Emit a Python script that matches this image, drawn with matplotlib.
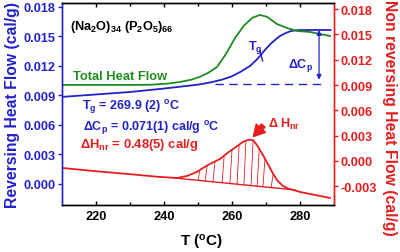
import matplotlib
matplotlib.use('Agg')
import matplotlib.pyplot as plt
import numpy as np

plt.rcParams['font.family'] = ['Liberation Sans', 'DejaVu Sans']
plt.rcParams['font.weight'] = 'bold'
plt.rcParams['mathtext.fontset'] = 'custom'
plt.rcParams['mathtext.rm'] = 'Liberation Sans:bold'
plt.rcParams['mathtext.it'] = 'Liberation Sans:bold:italic'
plt.rcParams['mathtext.bf'] = 'Liberation Sans:bold'
plt.rcParams['mathtext.default'] = 'rm'

BLUE = '#2222c8'
RED = '#e41e1e'
GREEN = '#1e8c1e'

# Reversing heat flow (left axis)
rev_T = [210, 220, 230, 240, 245, 250, 254, 257, 260, 262.5, 265.3, 267, 268.2, 269.5, 271.2,
         273, 274.1, 275.5, 277.1, 279, 281, 289]
rev_hf = [0.00885, 0.0091, 0.00935, 0.0097, 0.0099, 0.0101, 0.01035, 0.0106, 0.01095, 0.0114,
          0.0120, 0.01255, 0.0130, 0.01355, 0.0142, 0.01475, 0.01505, 0.0153, 0.01553, 0.01564,
          0.01566, 0.01566]

# Total heat flow (left axis)
tot_T = [210, 230, 236, 241, 244.7, 248, 250.6, 253, 255.6, 258, 261, 263.5, 266, 268.2, 270.3,
         273.2, 276.2, 279.1, 282.9, 288.8]
tot_hf = [0.01007, 0.01007, 0.01009, 0.0102, 0.01037, 0.0106, 0.0109, 0.0113, 0.0119, 0.0131,
          0.0149, 0.0161, 0.0169, 0.01719, 0.0170, 0.01627, 0.01586, 0.01556, 0.01546, 0.01505]

# Non reversing heat flow (right axis)
nr_T = [210, 219.1, 229.1, 238.8, 243.8, 246.8, 249.7, 252, 253.5, 256.5, 258.5, 260.3, 262,
        263.2, 264.3, 265.3, 266.3, 267.3, 269.1, 270.6, 272.1, 273.5, 275, 276.5, 278, 280, 288.8]
nr_hf = [-0.00083, -0.00119, -0.00154, -0.0019, -0.00202, -0.00178, -0.0013, -0.0007, -0.00036,
         0.00024, 0.0009, 0.00142, 0.0019, 0.00225, 0.00245, 0.00252, 0.00242, 0.0019, 0.00071,
         -0.0004, -0.00154, -0.0024, -0.00297, -0.00328, -0.00344, -0.00368, -0.00439]

# Baseline under the non-reversing peak
base_T = [243.0, 278.5]
base_hf = [-0.00202, -0.00344]

# Glass baseline extrapolation (dashed)
glass_T = [255.0, 286.5]
glass_hf = [0.0102, 0.0102]

# Hatch positions
hatch_T = [250.0, 252.1, 254.4, 257.1, 259.4, 261.5, 263.5, 265.6, 267.4, 269.1, 271.5]

x_ticks = [220, 240, 260, 280]
left_ticks = [0.000, 0.003, 0.006, 0.009, 0.012, 0.015, 0.018]
right_ticks = [-0.003, 0.000, 0.003, 0.006, 0.009, 0.012, 0.015, 0.018]

fig = plt.figure(figsize=(4, 2.53), dpi=100)
ax = fig.add_axes([0.155, 0.186, 0.68, 0.798])
ax2 = ax.twinx()

ax.plot(rev_T, rev_hf, color=BLUE, lw=1.3)
ax.plot(tot_T, tot_hf, color=GREEN, lw=1.3)
ax.plot(glass_T, glass_hf, color=BLUE, lw=1.0, ls=(0, (6, 4)))

ax2.plot(nr_T, nr_hf, color=RED, lw=1.3)
ax2.plot(base_T, base_hf, color=RED, lw=1.0)
for t in hatch_T:
    yb = np.interp(t, base_T, base_hf)
    yt = np.interp(t + 0.6, nr_T, nr_hf)
    ax2.plot([t, t + 0.6], [yb, yt], color=RED, lw=0.6)

ax.set_xlim(210, 290)
ax.set_ylim(-0.00214, 0.0184)
ax2.set_ylim(-0.00522, 0.01873)

ax.set_xticks(x_ticks)
ax.set_xticks([230, 250, 270], minor=True)
ax.set_yticks(left_ticks)
ax.set_yticklabels([f'{v:.3f}' for v in left_ticks])
ax2.set_yticks(right_ticks)
ax2.set_yticklabels([f'{v:.3f}' for v in right_ticks])

ax.tick_params(axis='x', which='both', direction='in', top=True, labelsize=9.2, length=3, width=1, pad=4)
ax.tick_params(axis='x', which='minor', length=2)
ax.tick_params(axis='y', direction='out', colors=BLUE, labelsize=9.2, length=3, width=1, pad=1.5)
ax2.tick_params(axis='y', direction='out', colors=RED, labelsize=9.2, length=3, width=1, pad=1.5)

for sp in ['top', 'bottom']:
    ax2.spines[sp].set_color('black')
ax2.spines['left'].set_color(BLUE)
ax2.spines['right'].set_color(RED)
ax.spines['left'].set_color(BLUE)
ax.spines['right'].set_color(RED)
for s in list(ax.spines.values()) + list(ax2.spines.values()):
    s.set_linewidth(1.0)

fig.text(12.5 / 400, 1 - 105 / 253, 'Reversing Heat Flow (cal/g)', color=BLUE, fontsize=11.3,
         fontweight='bold', rotation=90, ha='center', va='center')
fig.text(390 / 400, 1 - 118 / 253, 'Non reversing Heat Flow (cal/g)', color=RED, fontsize=11.3,
         fontweight='bold', rotation=-90, ha='center', va='center')
fig.text(0.505, 0.04, 'T ($^\\mathrm{o}$C)', ha='center', va='center', fontsize=11, fontweight='bold')

ax.text(0.029, 0.886, '(Na$_2$O)$_{34}$ (P$_2$O$_5$)$_{66}$', transform=ax.transAxes,
        ha='left', va='center', fontsize=9.2, color='black')
ax.text(0.040, 0.639, 'Total Heat Flow', transform=ax.transAxes, ha='left', va='center',
        fontsize=9.3, color=GREEN)
ax.text(0.074, 0.49, 'T$_\\mathrm{g}$ = 269.9 (2) $^\\mathrm{o}$C', transform=ax.transAxes,
        ha='left', va='center', fontsize=9.0, color=BLUE)
ax.text(0.077, 0.386, '$\\Delta$C$_\\mathrm{p}$ = 0.071(1) cal/g $^\\mathrm{o}$C', transform=ax.transAxes,
        ha='left', va='center', fontsize=9.0, color=BLUE)
ax.text(0.066, 0.302, '$\\Delta$H$_\\mathrm{nr}$ = 0.48(5) cal/g', transform=ax.transAxes,
        ha='left', va='center', fontsize=9.4, color=RED)

# Tg marker
ax.text(264.6, 0.0140, 'T$_\\mathrm{g}$', ha='left', va='center', fontsize=9.0, color=BLUE)
ax.plot([268.2, 269.0], [0.01353, 0.01251], color=BLUE, lw=1.0)

# Delta Cp arrow
ax.annotate('', xy=(285.6, 0.0106), xytext=(285.6, 0.01566),
            arrowprops=dict(arrowstyle='<|-|>', color=BLUE, lw=0.9, mutation_scale=7,
                            shrinkA=0, shrinkB=0))
ax.text(280.3, 0.0121, '$\\Delta$C$_\\mathrm{p}$', ha='center', va='center', fontsize=9.0, color=BLUE)

# Delta H_nr label and arrow
ax2.text(270.6, 0.0044, '$\\Delta$ H$_\\mathrm{nr}$', ha='left', va='center', fontsize=9.0, color=RED)
ax2.annotate('', xy=(266.3, 0.0029), xytext=(269.2, 0.0042),
             arrowprops=dict(arrowstyle='simple,head_width=0.9,head_length=0.8,tail_width=0.35',
                             color=RED, shrinkA=0, shrinkB=0, mutation_scale=10))

fig.savefig('out.png', dpi=100)
